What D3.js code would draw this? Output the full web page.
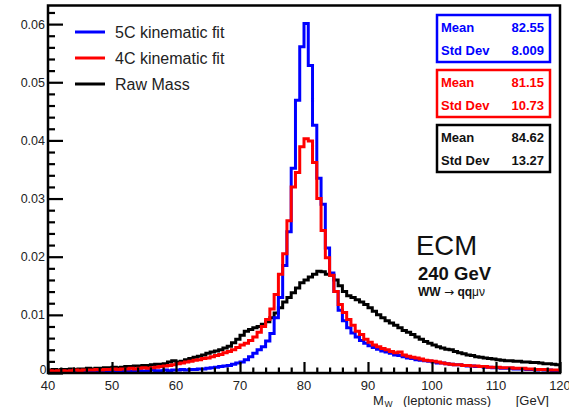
<!DOCTYPE html>
<html>
<head>
<meta charset="utf-8">
<script src="https://cdn.jsdelivr.net/npm/d3@7"></script>
<style>
  html, body { margin: 0; padding: 0; background: #fff; }
  svg { display: block; font-family: "Liberation Sans", Arial, Helvetica, sans-serif; }
</style>
</head>
<body>
<svg id="chart" width="569" height="407"></svg>
<script>
// Histogram binning: 120 bins of 2/3 GeV between 40 and 120 GeV
const binLow = 40;
const binHigh = 120;
const nBins = 120;

// Normalised bin contents, one entry per bin
const fit5C = [
  0.0002,0.0002,0.0001,0.0002,0.0002,0.0003,0.0002,0.0002,0.0003,0.0002,0.0003,0.0003,0.0002,0.0003,0.0003,
  0.0003,0.0004,0.0003,0.0004,0.0003,0.0004,0.0004,0.0003,0.0004,0.0005,0.0004,0.0004,0.0005,0.0004,0.0005,
  0.0005,0.0006,0.0005,0.0006,0.0006,0.0007,0.0007,0.0008,0.0009,0.0010,0.0011,0.0012,0.0013,0.0015,0.0017,
  0.0019,0.0023,0.0028,0.0034,0.0040,0.0045,0.0055,0.0068,0.0095,0.0130,0.0185,0.0243,0.0352,0.0469,0.0561,
  0.0601,0.0529,0.0426,0.0335,0.0290,0.0215,0.0172,0.0140,0.0108,0.0090,0.0078,0.0069,0.0062,0.0056,0.0051,
  0.0047,0.0044,0.0041,0.0038,0.0036,0.0034,0.0031,0.0030,0.0028,0.0026,0.0025,0.0023,0.0022,0.0021,0.0020,
  0.0019,0.0017,0.0017,0.0016,0.0015,0.0014,0.0014,0.0013,0.0012,0.0012,0.0011,0.0011,0.0010,0.0010,0.0009,
  0.0009,0.0008,0.0008,0.0008,0.0007,0.0007,0.0007,0.0006,0.0006,0.0005,0.0006,0.0005,0.0005,0.0004,0.0004
];
const fit4C = [
  0.0004,0.0003,0.0004,0.0004,0.0003,0.0004,0.0005,0.0004,0.0005,0.0005,0.0005,0.0006,0.0005,0.0006,0.0006,
  0.0007,0.0006,0.0007,0.0007,0.0008,0.0007,0.0008,0.0009,0.0008,0.0009,0.0010,0.0011,0.0012,0.0013,0.0014,
  0.0016,0.0017,0.0019,0.0020,0.0022,0.0023,0.0025,0.0026,0.0028,0.0030,0.0032,0.0035,0.0037,0.0040,0.0044,
  0.0048,0.0051,0.0056,0.0062,0.0070,0.0080,0.0092,0.0110,0.0135,0.0170,0.0205,0.0262,0.0320,0.0345,0.0389,
  0.0403,0.0399,0.0362,0.0300,0.0245,0.0198,0.0168,0.0140,0.0118,0.0104,0.0092,0.0082,0.0072,0.0066,0.0058,
  0.0053,0.0048,0.0045,0.0042,0.0040,0.0037,0.0035,0.0036,0.0031,0.0029,0.0027,0.0026,0.0024,0.0022,0.0021,
  0.0020,0.0019,0.0017,0.0016,0.0015,0.0014,0.0014,0.0013,0.0013,0.0012,0.0012,0.0011,0.0011,0.0010,0.0010,
  0.0010,0.0009,0.0009,0.0009,0.0008,0.0008,0.0008,0.0007,0.0007,0.0006,0.0006,0.0006,0.0005,0.0005,0.0005
];
const rawMass = [
  0.0005,0.0006,0.0005,0.0006,0.0006,0.0007,0.0006,0.0007,0.0007,0.0008,0.0007,0.0008,0.0008,0.0009,0.0009,
  0.0010,0.0009,0.0010,0.0011,0.0011,0.0012,0.0012,0.0013,0.0013,0.0014,0.0015,0.0015,0.0016,0.0019,0.0021,
  0.0019,0.0020,0.0023,0.0025,0.0027,0.0029,0.0031,0.0034,0.0036,0.0038,0.0040,0.0043,0.0046,0.0052,0.0058,
  0.0065,0.0072,0.0075,0.0078,0.0080,0.0084,0.0088,0.0095,0.0103,0.0112,0.0122,0.0130,0.0138,0.0146,0.0155,
  0.0160,0.0165,0.0170,0.0175,0.0174,0.0170,0.0168,0.0160,0.0150,0.0140,0.0133,0.0130,0.0126,0.0122,0.0118,
  0.0112,0.0106,0.0100,0.0095,0.0090,0.0086,0.0082,0.0078,0.0073,0.0070,0.0066,0.0062,0.0058,0.0054,0.0051,
  0.0048,0.0045,0.0043,0.0041,0.0040,0.0037,0.0035,0.0033,0.0031,0.0030,0.0028,0.0027,0.0026,0.0025,0.0024,
  0.0023,0.0022,0.0021,0.0021,0.0020,0.0020,0.0019,0.0019,0.0018,0.0018,0.0017,0.0016,0.0016,0.0015,0.0014
];

// Legend / statistics
const seriesNames = ["5C kinematic fit", "4C kinematic fit", "Raw Mass"];
const seriesColors = ["#0000ff", "#ff0000", "#000000"];
const statMean = ["82.55", "81.15", "84.62"];
const statStd = ["8.009", "10.73", "13.27"];

// Axis ticks
const xMajorTicks = [40, 50, 60, 70, 80, 90, 100, 110, 120];
const yMajorTicks = [0, 0.01, 0.02, 0.03, 0.04, 0.05, 0.06];
const yTickLabels = ["0", "0.01", "0.02", "0.03", "0.04", "0.05", "0.06"];

const svg = d3.select("#chart");
const frame = { left: 48, right: 560, top: 5.5, bottom: 373 };

const x = d3.scaleLinear().domain([binLow, binHigh]).range([frame.left, frame.right]);
const y = d3.scaleLinear().domain([0, 0.0632]).range([frame.bottom, frame.top]);

svg.append("rect").attr("width", 569).attr("height", 407).attr("fill", "#fff");

svg.append("defs").append("clipPath").attr("id", "plotClip")
  .append("rect")
  .attr("x", frame.left).attr("y", frame.top)
  .attr("width", frame.right - frame.left).attr("height", frame.bottom - frame.top);

// Histograms as step outlines
const binW = (binHigh - binLow) / nBins;
function stepPoints(vals) {
  const pts = [[binLow, 0]];
  vals.forEach((v, i) => pts.push([binLow + i * binW, v]));
  pts.push([binHigh, vals[vals.length - 1]]);
  pts.push([binHigh, 0]);
  return pts;
}
const stepLine = d3.line()
  .x(d => x(d[0])).y(d => y(d[1]))
  .curve(d3.curveStepAfter);

const plotG = svg.append("g").attr("clip-path", "url(#plotClip)");
const drawOrder = [
  { vals: rawMass, color: seriesColors[2] },
  { vals: fit5C, color: seriesColors[0] },
  { vals: fit4C, color: seriesColors[1] }
];
drawOrder.forEach(s => {
  plotG.append("path")
    .attr("d", stepLine(stepPoints(s.vals)))
    .attr("fill", "none")
    .attr("stroke", s.color)
    .attr("stroke-width", 3)
    .attr("stroke-linejoin", "miter");
});

// Frame
svg.append("rect")
  .attr("x", frame.left).attr("y", frame.top)
  .attr("width", frame.right - frame.left).attr("height", frame.bottom - frame.top)
  .attr("fill", "none").attr("stroke", "#000").attr("stroke-width", 2.5);

// Y axis ticks (inside the frame)
const yAxis = d3.axisRight(y)
  .tickValues(d3.range(0, 0.0631, 0.002))
  .tickSize(0).tickFormat("");
const yG = svg.append("g").attr("transform", `translate(${frame.left},0)`).call(yAxis);
yG.select(".domain").remove();
yG.selectAll(".tick line")
  .attr("x2", d => (Math.abs(d / 0.01 - Math.round(d / 0.01)) < 1e-6 ? 15 : 7))
  .attr("stroke", "#000").attr("stroke-width", 2.2);

svg.append("g").selectAll("text").data(yMajorTicks).join("text")
  .attr("x", (d, i) => (i === 0 ? 46.5 : 45))
  .attr("y", (d, i) => (i === 0 ? y(d) + 1 : y(d) + 4.5))
  .attr("text-anchor", "end")
  .attr("font-size", (d, i) => (i === 0 ? 12 : 12.5))
  .attr("fill", "#222")
  .text((d, i) => yTickLabels[i]);

// X axis ticks (inside the frame)
const xAxis = d3.axisTop(x)
  .tickValues(d3.range(40, 120.1, 2))
  .tickSize(0).tickFormat("");
const xG = svg.append("g").attr("transform", `translate(0,${frame.bottom})`).call(xAxis);
xG.select(".domain").remove();
xG.selectAll(".tick line")
  .attr("y2", d => (d % 10 === 0 ? -11 : -5.5))
  .attr("stroke", "#000").attr("stroke-width", 2.2);

svg.append("g").selectAll("text").data(xMajorTicks).join("text")
  .attr("x", d => x(d))
  .attr("y", 389.5)
  .attr("text-anchor", "middle")
  .attr("font-size", 13)
  .attr("fill", "#222")
  .text(d => d);

// X axis title
const xt = svg.append("g").attr("font-size", 13).attr("fill", "#222");
xt.append("text").attr("x", 373).attr("y", 404.5).text("M");
xt.append("text").attr("x", 384.5).attr("y", 406.5).attr("font-size", 8.5).text("W");
xt.append("text").attr("x", 403).attr("y", 404.5).text("(leptonic mass)");
xt.append("text").attr("x", 549).attr("y", 404.5).attr("text-anchor", "end").text("[GeV]");

// Legend
const legendY = [32, 58, 84];
const legG = svg.append("g");
seriesNames.forEach((name, i) => {
  legG.append("line")
    .attr("x1", 75).attr("x2", 105)
    .attr("y1", legendY[i]).attr("y2", legendY[i])
    .attr("stroke", seriesColors[i]).attr("stroke-width", 3);
  legG.append("text")
    .attr("x", 115).attr("y", legendY[i] + 5.8)
    .attr("font-size", 16).attr("fill", "#222")
    .text(name);
});

// Statistics boxes
const boxTop = [15, 70, 125];
const boxG = svg.append("g");
seriesColors.forEach((c, i) => {
  const g = boxG.append("g").attr("transform", `translate(437,${boxTop[i]})`);
  g.append("rect")
    .attr("x", 0).attr("y", 0).attr("width", 113).attr("height", 47)
    .attr("fill", "#fff").attr("stroke", c).attr("stroke-width", 2.5);
  const t = g.append("g").attr("font-size", 13).attr("font-weight", "bold").attr("fill", c === "#000000" ? "#111" : c);
  t.append("text").attr("x", 4).attr("y", 17).text("Mean");
  t.append("text").attr("x", 107).attr("y", 17).attr("text-anchor", "end").text(statMean[i]);
  t.append("text").attr("x", 4).attr("y", 40).text("Std Dev");
  t.append("text").attr("x", 107).attr("y", 40).attr("text-anchor", "end").text(statStd[i]);
});

// Annotation
const ann = svg.append("g").attr("fill", "#111");
ann.append("text").attr("x", 416).attr("y", 255).attr("font-size", 27.5).text("ECM");
ann.append("text").attr("x", 418).attr("y", 280).attr("font-size", 18.5).attr("font-weight", "bold").text("240 GeV");
const proc = ann.append("text").attr("x", 418).attr("y", 296).attr("font-size", 12).attr("font-weight", "bold");
proc.append("tspan").text("WW ");
proc.append("tspan").attr("font-family", "DejaVu Sans").attr("font-weight", "normal").attr("font-size", 12).text("\u2192");
proc.append("tspan").text(" qq");
proc.append("tspan").attr("font-weight", "normal").text("\u03bc\u03bd");
</script>
</body>
</html>
